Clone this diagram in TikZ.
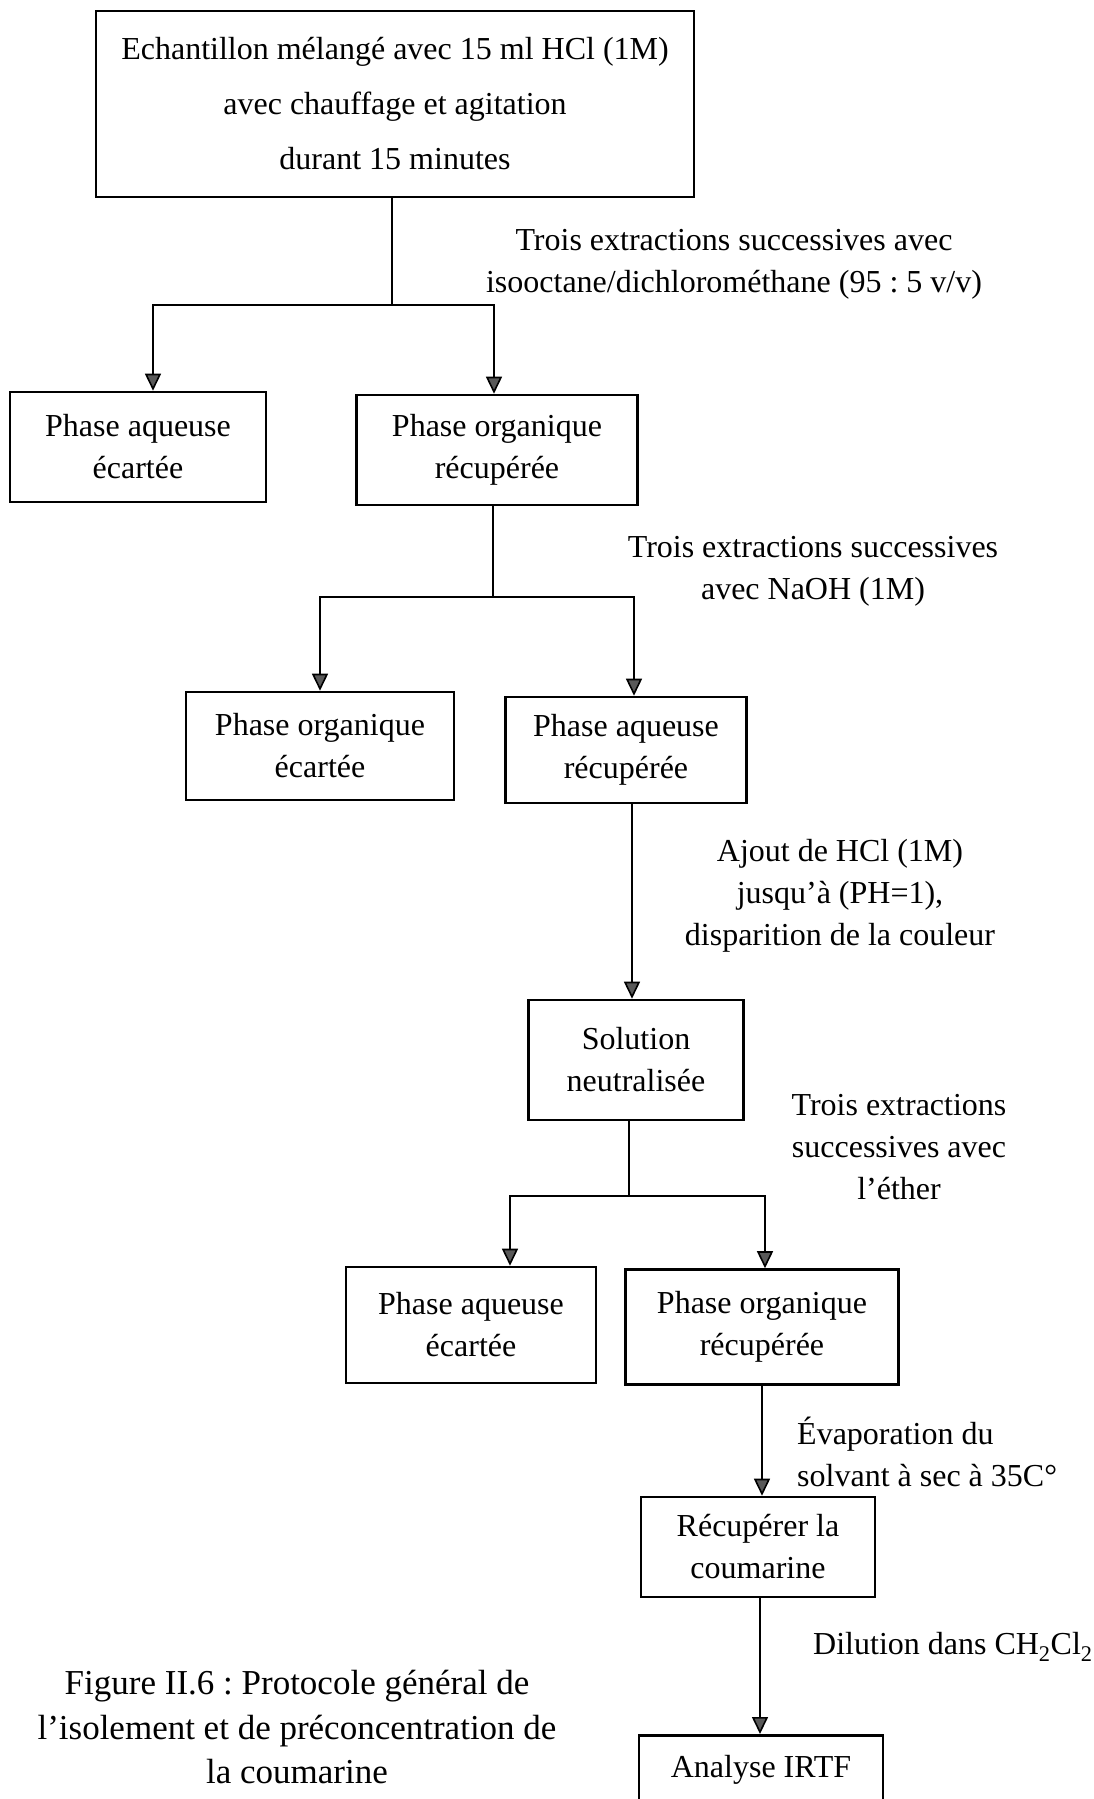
\documentclass[tikz,border=0pt]{standalone}
\usepackage{fontspec}
\setmainfont{Liberation Serif}
\usetikzlibrary{arrows.meta,positioning,calc}
\frenchspacing

\tikzset{
  box/.style={draw,line width=2.6pt,align=center,inner sep=0pt,
    font=\fontsize{32}{42}\selectfont},
  note/.style={align=center,inner sep=0pt,font=\fontsize{32}{42}\selectfont},
  link/.style={line width=1.6pt},
  arr/.style={link,-{Triangle[length=17pt,width=16pt,fill=black!65]}},
}

\begin{document}
\begin{tikzpicture}[x=1pt,y=-1pt]
        \useasboundingbox (0,0) rectangle (1093,1799);
        % Boxes
        \node[box,minimum width=598,minimum height=186,font=\fontsize{32}{55}\selectfont] (start) at (395,104)
          {Echantillon mélangé avec 15 ml HCl (1M)\\avec chauffage et agitation\\durant 15 minutes};
        \node[box,minimum width=256,minimum height=110] (aq1) at (138,447) {Phase aqueuse\\écartée};
        \node[box,minimum width=281,minimum height=110] (org1) at (497,450) {Phase organique\\récupérée};
        \node[box,minimum width=268,minimum height=108] (org2) at (320,746) {Phase organique\\écartée};
        \node[box,minimum width=241,minimum height=106] (aq2) at (626,750) {Phase aqueuse\\récupérée};
        \node[box,minimum width=215,minimum height=120] (neutre) at (636,1060) {Solution\\neutralisée};
        \node[box,minimum width=250,minimum height=116] (aq3) at (471,1325) {Phase aqueuse\\écartée};
        \node[box,minimum width=273,minimum height=115] (org3) at (762,1327) {Phase organique\\récupérée};
        \node[box,minimum width=234,minimum height=100] (couma) at (758,1547) {Récupérer la\\coumarine};
        \node[box,minimum width=244,minimum height=90,anchor=north,text depth=28pt] (irtf) at (761,1734) {Analyse IRTF};

        % Labels
        \node[note] (ext1) at (734,264) {Trois extractions successives avec\\isooctane/dichlorométhane (95 : 5 v/v)};
        \node[note] (ext2) at (813,571) {Trois extractions successives\\avec NaOH (1M)};
        \node[note] (ajout) at (840,896) {Ajout de HCl (1M)\\jusqu'à (PH=1),\\disparition de la couleur};
        \node[note] (ext3) at (899,1147) {Trois extractions\\successives avec\\l’éther};
        \node[note,anchor=west,align=left] (evap) at (797,1452) {Évaporation du\\solvant à sec à 35C°};
        \node[note,anchor=west] (dil) at (813,1647) {Dilution dans CH\textsubscript{2}Cl\textsubscript{2}};
        \node[note,font=\fontsize{35}{44.5}\selectfont] (caption) at (297,1727)
          {Figure II.6 : Protocole général de\\l’isolement et de préconcentration de\\la coumarine};

        % Connectors
        \coordinate (j1) at (392,305);
        \coordinate (j2) at (493,597);
        \coordinate (j3) at (629,1196);
        \draw[link] (j1 |- start.south) -- (j1);
        \draw[arr] (j1) -| ([xshift=15pt]aq1.north);
        \draw[arr] (j1) -| ([xshift=-3pt]org1.north);
        \draw[link] (j2 |- org1.south) -- (j2);
        \draw[arr] (j2) -| (org2.north);
        \draw[arr] (j2) -| ([xshift=8pt]aq2.north);
        \draw[arr] ([xshift=6pt]aq2.south) -- ([xshift=6pt]aq2.south |- neutre.north);
        \draw[link] (j3 |- neutre.south) -- (j3);
        \draw[arr] (j3) -| ([xshift=39pt]aq3.north);
        \draw[arr] (j3) -| ([xshift=3pt]org3.north);
        \draw[arr] (org3.south) -- (org3.south |- couma.north);
        \draw[arr] ([xshift=2pt]couma.south) -- ([xshift=2pt]couma.south |- irtf.north);
      \end{tikzpicture}
\end{document}
